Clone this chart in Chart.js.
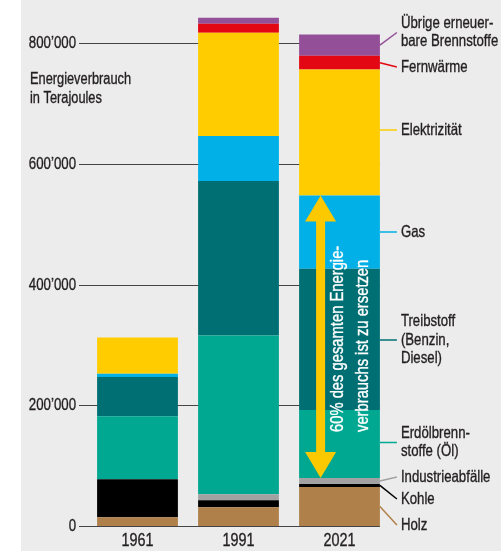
<!DOCTYPE html>
<html>
<head>
<meta charset="utf-8">
<script src="https://cdn.jsdelivr.net/npm/chart.js@4"></script>
<style>
  html, body { margin: 0; padding: 0; background: #fff; }
  #wrap { width: 501px; height: 551px; }
</style>
</head>
<body>
<div id="wrap"><canvas id="energyChart" width="501" height="551"></canvas></div>
<script>
// Categories and series (Terajoules), bottom to top
const years = ['1961', '1991', '2021'];
const seriesNames = ['Holz', 'Kohle', 'Industrieabfälle', 'Erdölbrenn-\nstoffe (Öl)', 'Treibstoff\n(Benzin,\nDiesel)',
  'Gas', 'Elektrizität', 'Fernwärme', 'Übrige erneuer-\nbare Brennstoffe'];
const holz = [14500, 31000, 64700];
const kohle = [63000, 11600, 5000];
const industrie = [0, 10000, 10000];
const erdoel = [104500, 263000, 112400];
const treibstoff = [64700, 256000, 234000];
const gas = [5500, 74500, 121600];
const elektrizitaet = [60000, 171000, 208500];
const fernwaerme = [0, 15000, 23000];
const uebrige = [0, 10000, 35000];
const yTicks = [0, 200000, 400000, 600000, 800000];
const axisTitle = ['Energieverbrauch', 'in Terajoules'];
const arrowText = ['60% des gesamten Energie-', 'verbrauchs ist zu ersetzen'];

const seriesValues = [holz, kohle, industrie, erdoel, treibstoff, gas, elektrizitaet, fernwaerme, uebrige];
const colors = ['#b0804a', '#000000', '#a2a2a2', '#00a891', '#006f73', '#00b0e6', '#ffcc00', '#e30613', '#944f99'];

// no condensed font installed, so text is squeezed horizontally
const FONT = '"Liberation Sans", Arial, sans-serif';
const TEXT = '#231f20';

// label centres on the right (pixels), one per series
const labelY = [525, 499, 477, 442.5, 340, 232, 130, 67, 32.5];

function fmt(v) {
  return String(v).replace(/\B(?=(\d{3})+(?!\d))/g, '\u2019');
}

function drawText(ctx, s, x, y, size, align, sx, rot) {
  ctx.save();
  ctx.translate(x, y);
  if (rot) ctx.rotate(rot);
  ctx.scale(sx, 1);
  ctx.font = size + 'px ' + FONT;
  ctx.textAlign = align;
  ctx.textBaseline = 'middle';
  ctx.fillText(s, 0, 0);
  // a touch heavier, closer to the original typeface
  ctx.strokeStyle = ctx.fillStyle;
  ctx.lineWidth = 0.35;
  ctx.strokeText(s, 0, 0);
  ctx.restore();
}

const decorPlugin = {
  id: 'decor',
  beforeDraw(chart) {
    const ctx = chart.ctx;
    ctx.save();
    ctx.fillStyle = '#ffffff';
    ctx.fillRect(0, 0, chart.width, chart.height);
    ctx.fillStyle = '#ececec';
    ctx.fillRect(21, 0, chart.width - 21, chart.height);
    ctx.restore();
  },
  beforeDatasetsDraw(chart) {
    const ctx = chart.ctx;
    const y = chart.scales.y;
    const x = chart.scales.x;
    const last = chart.getDatasetMeta(0).data[2];
    const right = last.x + last.width / 2;
    ctx.save();
    ctx.strokeStyle = '#444';
    ctx.lineWidth = 1;
    ctx.fillStyle = TEXT;
    yTicks.forEach(t => {
      const py = Math.round(y.getPixelForValue(t)) + 0.5;
      ctx.strokeStyle = '#444';
      ctx.lineWidth = 1;
      ctx.beginPath();
      ctx.moveTo(chart.chartArea.left - 8, py);
      ctx.lineTo(right, py);
      ctx.stroke();
      drawText(ctx, fmt(t), chart.chartArea.left - 11, py, 17, 'right', 0.78);
    });
    years.forEach((yr, i) => {
      drawText(ctx, yr, x.getPixelForValue(i), 541, 18, 'center', 0.8);
    });
    // axis title
    axisTitle.forEach((s, i) => drawText(ctx, s, 30, 80 + i * 19, 16, 'left', 0.8));
    ctx.restore();
  },
  afterDatasetsDraw(chart) {
    const ctx = chart.ctx;
    ctx.save();
    // leader lines and labels for the 2021 bar
    seriesNames.forEach((name, i) => {
      const bar = chart.getDatasetMeta(i).data[2];
      const bx = bar.x + bar.width / 2;
      const centre = (bar.y + bar.base) / 2;
      const ly = labelY[i];
      const sy = Math.abs(centre - ly) > 3 ? centre : ly;
      ctx.strokeStyle = colors[i];
      ctx.lineWidth = 1.5;
      ctx.beginPath();
      ctx.moveTo(bx, sy);
      ctx.lineTo(bx + 17, ly);
      ctx.stroke();
      const lines = name.split('\n');
      ctx.fillStyle = TEXT;
      lines.forEach((s, k) => {
        drawText(ctx, s, bx + 21, ly + (k - (lines.length - 1) / 2) * 18.5, 16.5, 'left', 0.8);
      });
    });

    // double arrow inside the 2021 bar, from Industrieabfälle top to Gas top
    const gasBar = chart.getDatasetMeta(5).data[2];
    const indBar = chart.getDatasetMeta(2).data[2];
    const left = gasBar.x - gasBar.width / 2;
    const ax = left + 21.5;
    const top = gasBar.y;
    const bottom = indBar.y;
    const hw = 15.5, hh = 26, sw = 4.5;
    ctx.fillStyle = '#fcc800';
    ctx.beginPath();
    ctx.moveTo(ax, top);
    ctx.lineTo(ax + hw, top + hh);
    ctx.lineTo(ax + sw, top + hh);
    ctx.lineTo(ax + sw, bottom - hh);
    ctx.lineTo(ax + hw, bottom - hh);
    ctx.lineTo(ax, bottom);
    ctx.lineTo(ax - hw, bottom - hh);
    ctx.lineTo(ax - sw, bottom - hh);
    ctx.lineTo(ax - sw, top + hh);
    ctx.lineTo(ax - hw, top + hh);
    ctx.closePath();
    ctx.fill();

    ctx.fillStyle = '#ffffff';
    arrowText.forEach((s, k) => {
      drawText(ctx, s, left + 39 + k * 25, 432, 18, 'left', 0.82, -Math.PI / 2);
    });
    ctx.restore();
  }
};

const ctx = document.getElementById('energyChart').getContext('2d');
const energyChart = new Chart(ctx, {
  type: 'bar',
  data: {
    labels: years,
    datasets: seriesNames.map((name, i) => ({
      label: name,
      data: seriesValues[i],
      backgroundColor: colors[i],
      borderWidth: 0,
      barPercentage: 0.8,
      categoryPercentage: 1.0
    }))
  },
  options: {
    responsive: false,
    animation: false,
    layout: { padding: { left: 0, right: 111, top: 13, bottom: 0 } },
    plugins: {
      legend: { display: false },
      tooltip: { enabled: false }
    },
    scales: {
      x: {
        stacked: true,
        grid: { display: false },
        border: { display: false },
        ticks: { display: false },
        afterFit(scale) { scale.height = 25; }
      },
      y: {
        stacked: true,
        min: 0,
        max: 850000,
        border: { display: false },
        grid: { display: false },
        ticks: { display: false },
        afterBuildTicks(scale) { scale.ticks = yTicks.map(v => ({ value: v })); },
        afterFit(scale) { scale.width = 87; }
      }
    }
  },
  plugins: [decorPlugin]
});
</script>
</body>
</html>
